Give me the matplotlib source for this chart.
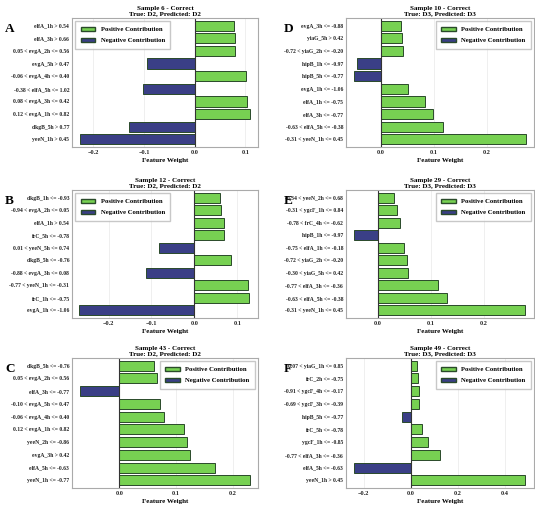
import matplotlib
matplotlib.use("Agg")
import matplotlib.pyplot as plt
from matplotlib.patches import Patch

plt.rcParams['font.family'] = ['Liberation Serif', 'DejaVu Serif']
plt.rcParams['font.weight'] = 'bold'

letters = ["A", "B", "C", "D", "E", "F"]
titles = ["Sample 6 - Correct\nTrue: D2, Predicted: D2",
          "Sample 12 - Correct\nTrue: D2, Predicted: D2",
          "Sample 43 - Correct\nTrue: D2, Predicted: D2",
          "Sample 10 - Correct\nTrue: D3, Predicted: D3",
          "Sample 29 - Correct\nTrue: D3, Predicted: D3",
          "Sample 49 - Correct\nTrue: D3, Predicted: D3"]
labels_A = ["elfA_1h > 0.54", "elfA_3h > 0.66", "0.05 < evgA_2h <= 0.56", "evgA_5h > 0.47",
            "-0.06 < evgA_4h <= 0.40", "-0.38 < elfA_5h <= 1.02", "0.08 < evgA_3h <= 0.42",
            "0.12 < evgA_1h <= 0.82", "dkgB_5h > 0.77", "yeeN_1h > 0.45"]
values_A = [0.078, 0.079, 0.080, -0.095, 0.102, -0.102, 0.103, 0.109, -0.130, -0.226]
labels_B = ["dkgB_1h <= -0.93", "-0.94 < evgA_2h <= 0.05", "elfA_1h > 0.54", "frC_5h <= -0.78",
            "0.01 < yeeN_5h <= 0.74", "dkgB_5h <= -0.76", "-0.88 < evgA_3h <= 0.08",
            "-0.77 < yeeN_1h <= -0.31", "frC_1h <= -0.75", "evgA_1h <= -1.06"]
values_B = [0.060, 0.062, 0.069, 0.070, -0.083, 0.086, -0.112, 0.124, 0.126, -0.268]
labels_C = ["dkgB_5h <= -0.76", "0.05 < evgA_2h <= 0.56", "elfA_3h <= -0.77", "-0.10 < evgA_5h <= 0.47",
            "-0.06 < evgA_4h <= 0.40", "0.12 < evgA_1h <= 0.82", "yeeN_2h <= -0.86",
            "evgA_3h > 0.42", "elfA_5h <= -0.63", "yeeN_1h <= -0.77"]
values_C = [0.062, 0.066, -0.069, 0.071, 0.078, 0.114, 0.120, 0.125, 0.168, 0.230]
labels_D = ["evgA_3h <= -0.88", "yiaG_5h > 0.42", "-0.72 < yiaG_2h <= -0.20", "hipB_1h <= -0.97",
            "hipB_5h <= -0.77", "evgA_1h <= -1.06", "elfA_1h <= -0.75", "elfA_3h <= -0.77",
            "-0.63 < elfA_5h <= -0.38", "-0.31 < yeeN_1h <= 0.45"]
values_D = [0.038, 0.041, 0.042, -0.045, -0.050, 0.051, 0.083, 0.099, 0.117, 0.274]
labels_E = ["-0.34 < yeeN_2h <= 0.68", "-0.31 < ygcF_1h <= 0.84", "-0.78 < frC_4h <= -0.62",
            "hipB_1h <= -0.97", "-0.75 < elfA_1h <= -0.18", "-0.72 < yiaG_2h <= -0.20",
            "-0.30 < yiaG_5h <= 0.42", "-0.77 < elfA_3h <= -0.36", "-0.63 < elfA_5h <= -0.38",
            "-0.31 < yeeN_1h <= 0.45"]
values_E = [0.031, 0.036, 0.041, -0.045, 0.050, 0.055, 0.056, 0.114, 0.131, 0.277]
labels_F = ["0.07 < yiaG_1h <= 0.85", "frC_2h <= -0.75", "-0.91 < ygcF_4h <= -0.17",
            "-0.69 < ygcF_3h <= -0.39", "hipB_5h <= -0.77", "frC_5h <= -0.78", "ygcF_1h <= -0.85",
            "-0.77 < elfA_3h <= -0.36", "elfA_5h <= -0.63", "yeeN_1h > 0.45"]
values_F = [0.027, 0.029, 0.035, 0.035, -0.037, 0.047, 0.072, 0.123, -0.242, 0.485]

all_labels = [labels_A, labels_B, labels_C, labels_D, labels_E, labels_F]
all_values = [values_A, values_B, values_C, values_D, values_E, values_F]
xlims = [(-0.242, 0.125), (-0.285, 0.148), (-0.083, 0.244),
         (-0.065, 0.289), (-0.060, 0.294), (-0.275, 0.523)]
xticks = [[-0.2, -0.1, 0.0, 0.1], [-0.2, -0.1, 0.0, 0.1], [0.0, 0.1, 0.2],
          [0.0, 0.1, 0.2], [0.0, 0.1, 0.2], [-0.2, 0.0, 0.2, 0.4]]
legloc = ["upper left", "upper left", "upper right", "upper right", "upper right", "upper right"]

GREEN = "#77d152"
NAVY = "#3a3f86"
W, H = 535, 507
fig = plt.figure(figsize=(W/100, H/100), dpi=100)
boxes = [(72, 18, 258, 147), (72, 190, 258, 318), (72, 358, 258, 488),
         (346, 18, 534, 147), (346, 190, 534, 318), (346, 358, 534, 488)]
for i in range(6):
    l, t, r, b = boxes[i]
    ax = fig.add_axes([l/W, 1-b/H, (r-l)/W, (b-t)/H])
    vals = all_values[i]
    y = list(range(len(vals)))[::-1]
    cols = [GREEN if v > 0 else NAVY for v in vals]
    ax.barh(y, vals, height=0.8, color=cols, edgecolor="#2a4a2a", linewidth=0.7)
    ax.set_yticks(y)
    ax.set_yticklabels(all_labels[i], fontsize=4.1)
    ax.set_xlim(*xlims[i])
    ax.set_ylim(-0.6, len(vals)-0.4)
    ax.set_xticks(xticks[i])
    ax.set_xticklabels([f"{v:.1f}".replace("-", "\u2212") for v in xticks[i]], fontsize=4.5)
    ax.axvline(0, color="#333333", linewidth=0.8)
    ax.grid(axis="x", color="#ececec", linewidth=0.6)
    ax.set_axisbelow(True)
    for s in ax.spines.values():
        s.set_color("#aaaaaa")
    ax.tick_params(length=0, pad=2, colors="#222222")
    ax.set_xlabel("Feature Weight", fontsize=5, fontweight="bold", labelpad=2)
    ax.set_title(titles[i], fontsize=5, fontweight="bold", pad=2, linespacing=1.0)
    fig.text((l - 67 if i < 3 else l - 62)/W, 1-(t + 11)/H, letters[i], fontsize=9.5,
             fontweight="bold", ha="left", va="center")
    handles = [Patch(facecolor=GREEN, edgecolor="#2a4a2a", label="Positive Contribution"),
               Patch(facecolor=NAVY, edgecolor="#2a4a2a", label="Negative Contribution")]
    ax.legend(handles=handles, loc=legloc[i], fontsize=4.8, frameon=True,
              edgecolor="#bbbbbb", fancybox=False, borderpad=0.8, labelspacing=0.8,
              handlelength=2.2)
fig.savefig("out.png", dpi=100)
